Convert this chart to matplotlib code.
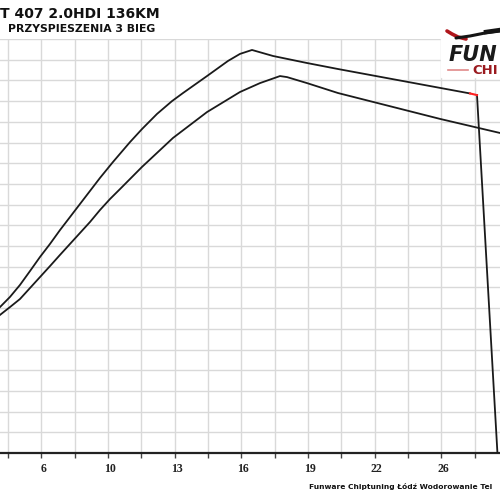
import matplotlib.pyplot as plt
from matplotlib.patches import Rectangle
from matplotlib.transforms import ScaledTranslation

# grid units along x (one per vertical grid line), y in grid rows
upper_x = [-0.24, 0.06, 0.36, 0.66, 0.96, 1.26, 1.56, 1.86, 2.16, 2.46, 2.76, 3.15,
           3.66, 4.02, 4.47, 4.92, 5.25, 5.97, 6.60, 6.96, 7.32, 7.95, 8.97, 9.90, 13.86]
upper_y = [7.05, 7.54, 8.12, 8.79, 9.47, 10.10, 10.77, 11.40, 12.03, 12.66, 13.29, 14.06,
           15.02, 15.65, 16.38, 17.00, 17.39, 18.21, 18.94, 19.28, 19.47, 19.18, 18.84,
           18.55, 17.37]
red_x = [13.86, 14.07]
red_y = [17.37, 17.29]
drop_x = [14.07, 14.69]
drop_y = [17.29, -0.2]

lower_x = [-0.24, 0.06, 0.36, 0.66, 0.96, 1.26, 1.56, 1.86, 2.16, 2.46, 2.76, 3.06,
           3.36, 4.02, 4.95, 5.97, 6.96, 7.56, 8.16, 8.37, 8.97, 9.90, 12.96, 14.76]
lower_y = [6.67, 7.05, 7.44, 7.97, 8.50, 9.03, 9.57, 10.10, 10.63, 11.16, 11.74, 12.27,
           12.75, 13.82, 15.22, 16.47, 17.44, 17.87, 18.21, 18.16, 17.87, 17.39, 16.14,
           15.46]

tick_pos = list(range(15))
tick_labels = ['', '6', '', '10', '', '13', '', '16', '', '19', '', '22', '', '26', '']

title1 = 'T 407 2.0HDI 136KM'
title2 = 'PRZYSPIESZENIA 3 BIEG'
footer = 'Funware Chiptuning Łódź Wodorowanie Tel'

fig = plt.figure(figsize=(5, 5), dpi=100)
ax = fig.add_axes([0, 47/500, 1, 414/500])
ax.set_xlim(-0.24, 14.76)
ax.set_ylim(0, 20)

ax.set_xticks(tick_pos)
ax.set_xticklabels(tick_labels, fontfamily='Liberation Serif', fontweight='bold',
                   fontsize=8.5, color='#222222')
ax.set_yticks(range(21))
ax.set_yticklabels([])
ax.tick_params(axis='y', length=0)
ax.tick_params(axis='x', direction='out', length=3.5, width=1, color='#444444', pad=4)
for lab in ax.get_xticklabels():
    lab.set_transform(lab.get_transform() + ScaledTranslation(2/100, 0, fig.dpi_scale_trans))
ax.grid(True, color='#d9d9d9', lw=1.0, zorder=0)
for s in ['left', 'right', 'top']:
    ax.spines[s].set_visible(False)
ax.spines['bottom'].set_linewidth(1.6)
ax.spines['bottom'].set_color('#222222')

ax.plot(upper_x, upper_y, color='#1a1a1a', lw=1.3, zorder=3)
ax.plot(lower_x, lower_y, color='#1a1a1a', lw=1.3, zorder=3)
ax.plot(drop_x, drop_y, color='#1a1a1a', lw=1.3, zorder=3)
ax.plot(red_x, red_y, color='#ff2020', lw=1.5, zorder=4)

# overlay in pixel coordinates for titles and logo
ov = fig.add_axes([0, 0, 1, 1], zorder=5)
ov.set_xlim(0, 500)
ov.set_ylim(500, 0)
ov.axis('off')
ov.patch.set_alpha(0)

ov.add_patch(Rectangle((441, 0), 59, 77, color='white', zorder=1))
ov.plot([447, 452, 458, 466], [31, 34, 37, 39], color='#b0161c', lw=2.6,
        solid_capstyle='round', zorder=2)
ov.plot([456, 470, 485, 500], [38, 36, 33, 31], color='#151515', lw=2.2,
        solid_capstyle='round', zorder=3)
ov.plot([486, 500], [32, 30], color='#151515', lw=3.2, zorder=3)
ov.text(449, 61, 'FUN', fontsize=15, fontweight='bold', fontstyle='italic',
        color='#1a1a1a', va='baseline', ha='left', zorder=4)
ov.plot([448, 468], [70, 70], color='#e08a8a', lw=1.2, zorder=2)
ov.text(472, 74.5, 'CHI', fontsize=9.5, fontweight='bold', color='#9a1a1f',
        va='baseline', ha='left', zorder=4)

ov.text(0, 17.5, title1, fontsize=10, fontweight='bold', color='#111111',
        va='baseline', ha='left')
ov.text(8, 32.5, title2, fontsize=7.8, fontweight='bold', color='#111111',
        va='baseline', ha='left')
ov.text(309, 489, footer, fontsize=5.4, fontweight='bold', color='#111111',
        va='baseline', ha='left')

fig.savefig('out.png', dpi=100)
